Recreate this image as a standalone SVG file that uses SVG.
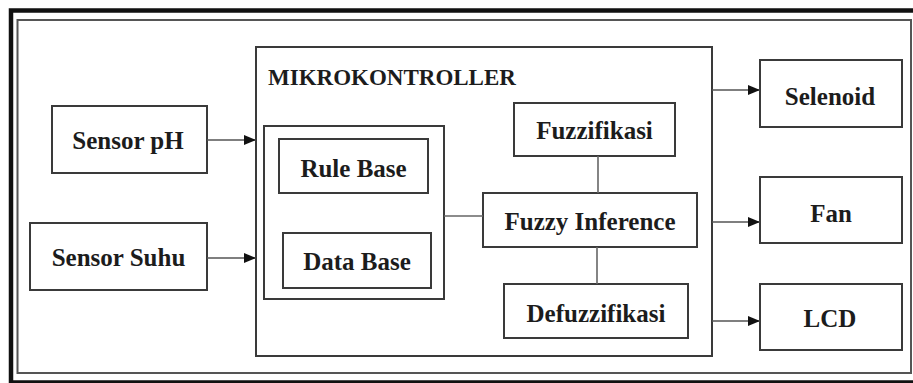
<svg xmlns="http://www.w3.org/2000/svg" width="913" height="383" viewBox="0 0 913 383">
  <style>
    .box { fill: #fff; stroke: #3a3a3a; stroke-width: 2; }
    .lbl { font-family: "Liberation Serif", "Times New Roman", serif; font-weight: bold; font-size: 25px; fill: #1c1c1c; text-anchor: middle; }
    .title { font-family: "Liberation Serif", "Times New Roman", serif; font-weight: bold; font-size: 23px; fill: #1c1c1c; }
    .wire { stroke: #666; stroke-width: 1.6; fill: none; }
    .arrow { stroke: #555; stroke-width: 1.6; fill: none; marker-end: url(#head); }
  </style>
  <defs>
    <marker id="head" viewBox="0 0 12 10" refX="12" refY="5" markerWidth="12" markerHeight="10" markerUnits="userSpaceOnUse" orient="auto">
      <path d="M0,0 L12,5 L0,10 Z" fill="#111"/>
    </marker>
  </defs>
  <rect width="913" height="383" fill="#fff"/>

  <!-- frame -->
  <g id="frame">
    <rect x="11" y="10.5" width="920" height="372" fill="none" stroke="#111" stroke-width="4.5"/>
    <rect x="17.5" y="20" width="893.5" height="353" fill="none" stroke="#555" stroke-width="2"/>
  </g>

  <!-- microcontroller container -->
  <g id="mikrokontroller">
    <rect class="box" x="256" y="47" width="456" height="309"/>
    <text class="title" x="268" y="85">MIKROKONTROLLER</text>
  </g>

  <g id="knowledge-base">
    <rect class="box" x="264" y="126" width="180" height="173"/>
  </g>

  <g id="rule-base">
    <rect class="box" x="279" y="139" width="149" height="54"/>
    <text class="lbl" x="353.5" y="177">Rule Base</text>
  </g>

  <g id="data-base">
    <rect class="box" x="283" y="233" width="148" height="55"/>
    <text class="lbl" x="357" y="270">Data Base</text>
  </g>

  <g id="fuzzifikasi">
    <rect class="box" x="514" y="103" width="161" height="53"/>
    <text class="lbl" x="594.5" y="139">Fuzzifikasi</text>
  </g>

  <g id="fuzzy-inference">
    <rect class="box" x="483" y="193" width="214" height="54"/>
    <text class="lbl" x="590" y="230">Fuzzy Inference</text>
  </g>

  <g id="defuzzifikasi">
    <rect class="box" x="504" y="284" width="184" height="54"/>
    <text class="lbl" x="596" y="322">Defuzzifikasi</text>
  </g>

  <!-- inputs -->
  <g id="sensor-ph">
    <rect class="box" x="52" y="106" width="155" height="67"/>
    <text class="lbl" x="128" y="149">Sensor pH</text>
  </g>

  <g id="sensor-suhu">
    <rect class="box" x="30" y="223" width="177" height="67"/>
    <text class="lbl" x="118.5" y="266">Sensor Suhu</text>
  </g>

  <!-- outputs -->
  <g id="selenoid">
    <rect class="box" x="760" y="60" width="142" height="67"/>
    <text class="lbl" x="830" y="105">Selenoid</text>
  </g>

  <g id="fan">
    <rect class="box" x="760" y="177" width="142" height="66"/>
    <text class="lbl" x="831" y="222">Fan</text>
  </g>

  <g id="lcd">
    <rect class="box" x="760" y="284" width="142" height="66"/>
    <text class="lbl" x="830" y="327">LCD</text>
  </g>

  <!-- connectors -->
  <g id="connectors">
    <line class="arrow" x1="207" y1="140" x2="256" y2="140"/>
    <line class="arrow" x1="207" y1="258" x2="256" y2="258"/>
    <line class="wire" x1="444" y1="216" x2="483" y2="216"/>
    <line class="wire" x1="598" y1="156" x2="598" y2="193"/>
    <line class="wire" x1="597" y1="247" x2="597" y2="284"/>
    <line class="arrow" x1="712" y1="90" x2="760" y2="90"/>
    <line class="arrow" x1="712" y1="222" x2="760" y2="222"/>
    <line class="arrow" x1="712" y1="321" x2="760" y2="321"/>
  </g>
</svg>
